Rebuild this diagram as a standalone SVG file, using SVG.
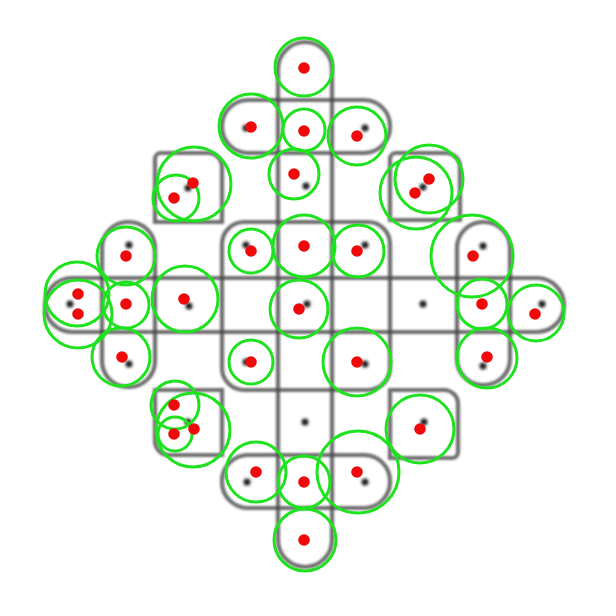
<svg xmlns="http://www.w3.org/2000/svg" width="616" height="616" viewBox="0 0 616 616">
<defs>
<filter id="blur" x="-10%" y="-10%" width="120%" height="120%"><feGaussianBlur stdDeviation="1.3"/></filter>
<filter id="dotblur" x="-100%" y="-100%" width="300%" height="300%"><feGaussianBlur stdDeviation="1.8"/></filter>
</defs>
<style>
.o{fill:none;stroke:#4a4a4a;stroke-width:4.2;stroke-opacity:0.8}
.d{fill:#1a1a1a}
.g{fill:none;stroke:#1ee21e;stroke-width:3}
.r{fill:#ee0a0a}
</style>
<rect width="616" height="616" fill="#ffffff"/>
<g id="outlines" filter="url(#blur)">
<rect class="o" x="278" y="42" width="54" height="525" rx="27"/>
<rect class="o" x="45" y="278" width="519" height="54" rx="27"/>
<rect class="o" x="222" y="100" width="168" height="53" rx="26"/>
<rect class="o" x="222" y="455" width="168" height="53" rx="26"/>
<rect class="o" x="222" y="222" width="168" height="168" rx="22"/>
<rect class="o" x="102" y="222" width="53" height="165" rx="26"/>
<rect class="o" x="457" y="222" width="53" height="163" rx="26"/>
<path class="o" d="M161,153 H208 A14,14 0 0 1 222,167 V222 H155 V159 A6,6 0 0 1 161,153 Z"/>
<path class="o" d="M396,153 H446 A14,14 0 0 1 460,167 V220 H390 V159 A6,6 0 0 1 396,153 Z"/>
<path class="o" d="M155,390 H222 V455 H169 A14,14 0 0 1 155,441 Z"/>
<path class="o" d="M390,390 H444 A14,14 0 0 1 458,404 V452 A6,6 0 0 1 452,458 H390 Z"/>
</g>
<g id="dark-dots" filter="url(#dotblur)">
<circle class="d" cx="304" cy="68" r="3.5"/>
<circle class="d" cx="246" cy="128" r="3.5"/>
<circle class="d" cx="304" cy="131" r="3"/>
<circle class="d" cx="365" cy="128" r="3.5"/>
<circle class="d" cx="306" cy="186" r="3.5"/>
<circle class="d" cx="188" cy="188" r="3.5"/>
<circle class="d" cx="423" cy="187" r="3.5"/>
<circle class="d" cx="129" cy="245" r="3.5"/>
<circle class="d" cx="70" cy="304" r="3.5"/>
<circle class="d" cx="126" cy="304" r="3"/>
<circle class="d" cx="189" cy="306" r="3.5"/>
<circle class="d" cx="129" cy="364" r="3.5"/>
<circle class="d" cx="246" cy="245" r="3.5"/>
<circle class="d" cx="304" cy="246" r="3"/>
<circle class="d" cx="365" cy="245" r="3.5"/>
<circle class="d" cx="307" cy="304" r="3.5"/>
<circle class="d" cx="246" cy="362" r="3.5"/>
<circle class="d" cx="365" cy="364" r="3.5"/>
<circle class="d" cx="423" cy="304" r="3.5"/>
<circle class="d" cx="483" cy="246" r="3.5"/>
<circle class="d" cx="482" cy="304" r="3"/>
<circle class="d" cx="542" cy="304" r="3.5"/>
<circle class="d" cx="483" cy="366" r="3.5"/>
<circle class="d" cx="188" cy="422" r="3.5"/>
<circle class="d" cx="305" cy="422" r="3.5"/>
<circle class="d" cx="424" cy="422" r="3.5"/>
<circle class="d" cx="247" cy="482" r="3.5"/>
<circle class="d" cx="304" cy="482" r="3"/>
<circle class="d" cx="365" cy="482" r="3.5"/>
<circle class="d" cx="305" cy="540" r="3"/>
</g>
<g id="green-circles">
<circle class="g" cx="304" cy="67" r="29"/>
<circle class="g" cx="251" cy="126" r="32"/>
<circle class="g" cx="304" cy="130" r="21"/>
<circle class="g" cx="357" cy="136" r="29"/>
<circle class="g" cx="294" cy="174" r="25"/>
<circle class="g" cx="194" cy="184" r="37"/>
<circle class="g" cx="176" cy="198" r="23"/>
<circle class="g" cx="429" cy="179" r="34"/>
<circle class="g" cx="416" cy="193" r="36"/>
<circle class="g" cx="126" cy="256" r="29"/>
<circle class="g" cx="77" cy="294" r="32"/>
<circle class="g" cx="78" cy="314" r="34"/>
<circle class="g" cx="126" cy="305" r="23"/>
<circle class="g" cx="185" cy="299" r="33"/>
<circle class="g" cx="121" cy="357" r="29"/>
<circle class="g" cx="251" cy="251" r="22"/>
<circle class="g" cx="304" cy="246" r="31"/>
<circle class="g" cx="358" cy="251" r="26"/>
<circle class="g" cx="299" cy="309" r="29"/>
<circle class="g" cx="251" cy="362" r="22"/>
<circle class="g" cx="357" cy="362" r="34"/>
<circle class="g" cx="472" cy="256" r="41"/>
<circle class="g" cx="482" cy="304" r="25"/>
<circle class="g" cx="536" cy="313" r="28"/>
<circle class="g" cx="487" cy="358" r="30"/>
<circle class="g" cx="175" cy="405" r="24"/>
<circle class="g" cx="175" cy="434" r="17"/>
<circle class="g" cx="193" cy="430" r="37"/>
<circle class="g" cx="420" cy="429" r="34"/>
<circle class="g" cx="256" cy="472" r="30"/>
<circle class="g" cx="304" cy="482" r="26"/>
<circle class="g" cx="358" cy="472" r="41"/>
<circle class="g" cx="305" cy="540" r="31"/>
</g>
<g id="red-dots">
<circle class="r" cx="304" cy="68" r="5.8"/>
<circle class="r" cx="251" cy="127" r="5.8"/>
<circle class="r" cx="304" cy="131" r="5.8"/>
<circle class="r" cx="357" cy="136" r="5.8"/>
<circle class="r" cx="294" cy="174" r="5.8"/>
<circle class="r" cx="193" cy="183" r="5.8"/>
<circle class="r" cx="174" cy="198" r="5.8"/>
<circle class="r" cx="429" cy="179" r="5.8"/>
<circle class="r" cx="415" cy="193" r="5.8"/>
<circle class="r" cx="126" cy="256" r="5.8"/>
<circle class="r" cx="78" cy="294" r="5.8"/>
<circle class="r" cx="78" cy="314" r="5.8"/>
<circle class="r" cx="126" cy="304" r="5.8"/>
<circle class="r" cx="184" cy="299" r="5.8"/>
<circle class="r" cx="122" cy="357" r="5.8"/>
<circle class="r" cx="251" cy="251" r="5.8"/>
<circle class="r" cx="304" cy="246" r="5.8"/>
<circle class="r" cx="357" cy="251" r="5.8"/>
<circle class="r" cx="299" cy="309" r="5.8"/>
<circle class="r" cx="251" cy="362" r="5.8"/>
<circle class="r" cx="357" cy="362" r="5.8"/>
<circle class="r" cx="473" cy="256" r="5.8"/>
<circle class="r" cx="482" cy="304" r="5.8"/>
<circle class="r" cx="535" cy="314" r="5.8"/>
<circle class="r" cx="487" cy="357" r="5.8"/>
<circle class="r" cx="174" cy="405" r="5.8"/>
<circle class="r" cx="174" cy="434" r="5.8"/>
<circle class="r" cx="194" cy="429" r="5.8"/>
<circle class="r" cx="420" cy="429" r="5.8"/>
<circle class="r" cx="256" cy="472" r="5.8"/>
<circle class="r" cx="304" cy="482" r="5.8"/>
<circle class="r" cx="357" cy="472" r="5.8"/>
<circle class="r" cx="304" cy="540" r="5.8"/>
</g>
</svg>
